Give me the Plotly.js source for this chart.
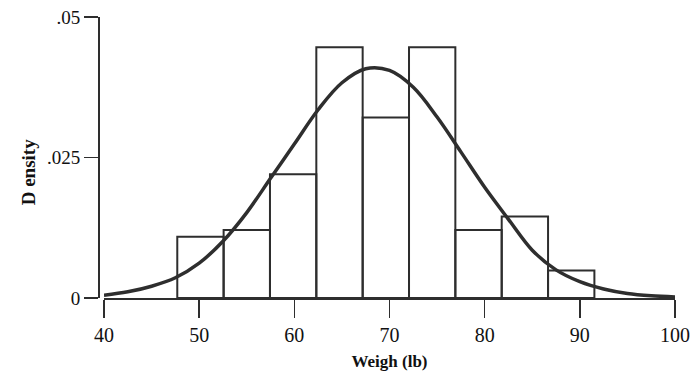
<!DOCTYPE html>
<html>
<head>
<meta charset="utf-8">
<script src="https://cdn.plot.ly/plotly-3.0.1.min.js"></script>
<style>html,body{margin:0;padding:0;background:#fff;}#chart{width:691px;height:379px;}</style>
</head>
<body>
<div id="chart"></div>
<script>
// Histogram bins (left edges, lb) and densities
var binLeft = [47.7, 52.57, 57.44, 62.31, 67.18, 72.05, 76.92, 81.79, 86.66];
var binWidth = 4.87;
var binDensity = [0.0109, 0.0121, 0.0220, 0.0446, 0.0321, 0.0446, 0.0121, 0.0145, 0.0049];

// Fitted density curve
var curveX = [40, 42.5, 45, 47.5, 50, 52.5, 55, 57.5, 60, 62.5, 65, 67.5, 70, 72.5, 75, 77.5, 80, 82.5, 85, 87.5, 90, 92.5, 95, 97.5, 100];
var curveY = [0.0005, 0.0011, 0.0021, 0.0036, 0.0062, 0.0101, 0.0152, 0.0213, 0.0274, 0.0335, 0.0383, 0.0408, 0.0405, 0.0375, 0.0322, 0.0260, 0.0197, 0.0140, 0.0085, 0.0050, 0.0029, 0.0016, 0.0008, 0.0004, 0.0002];

// Axis ticks
var xTickVals = [40, 50, 60, 70, 80, 90, 100];
var yTickVals = [0, 0.025, 0.05];
var yTickText = ['0', '.025', '.05'];

var ink = '#2e2e2e';
var font = 'Liberation Serif, Times New Roman, serif';

var bars = {
  type: 'bar',
  x: binLeft,
  y: binDensity,
  width: binLeft.map(function(){ return binWidth; }),
  offset: 0,
  marker: {color: 'rgba(255,255,255,0)', line: {color: ink, width: 2}},
  hoverinfo: 'skip',
  showlegend: false
};
var curve = {
  type: 'scatter',
  mode: 'lines',
  x: curveX,
  y: curveY,
  line: {color: ink, width: 3.5, shape: 'spline', smoothing: 1},
  hoverinfo: 'skip',
  showlegend: false
};

var layout = {
  width: 691,
  height: 379,
  margin: {l: 98, r: 16, t: 17, b: 81},
  paper_bgcolor: '#ffffff',
  plot_bgcolor: '#ffffff',
  font: {family: font, color: '#111', size: 19},
  xaxis: {
    domain: [0.0104, 1],
    range: [40, 100],
    tickvals: xTickVals,
    ticks: 'outside', ticklen: 18, tickwidth: 1.6, tickcolor: ink,
    showline: true, linecolor: ink, linewidth: 1.6,
    showgrid: false, zeroline: false,
    tickfont: {family: font, size: 20, color: '#111'},
    title: {text: 'Weigh (lb)', font: {family: font, size: 17, color: '#111', weight: 'bold'}, standoff: 10}
  },
  yaxis: {
    anchor: 'free', position: 0,
    range: [0, 0.05],
    tickvals: yTickVals, ticktext: yTickText,
    ticks: 'outside', ticklen: 14, tickwidth: 1.6, tickcolor: ink,
    showline: true, linecolor: ink, linewidth: 1.6,
    showgrid: false, zeroline: false,
    tickfont: {family: font, size: 19, color: '#111'}
  },
  annotations: [{
    text: 'D ensity', textangle: -90, showarrow: false,
    xref: 'paper', yref: 'paper', x: -0.121, y: 0.448,
    xanchor: 'center', yanchor: 'middle',
    font: {family: font, size: 19, color: '#111', weight: 'bold'}
  }],
  bargap: 0
};

Plotly.newPlot('chart', [bars, curve], layout, {displayModeBar: false, staticPlot: true});
</script>
</body>
</html>
